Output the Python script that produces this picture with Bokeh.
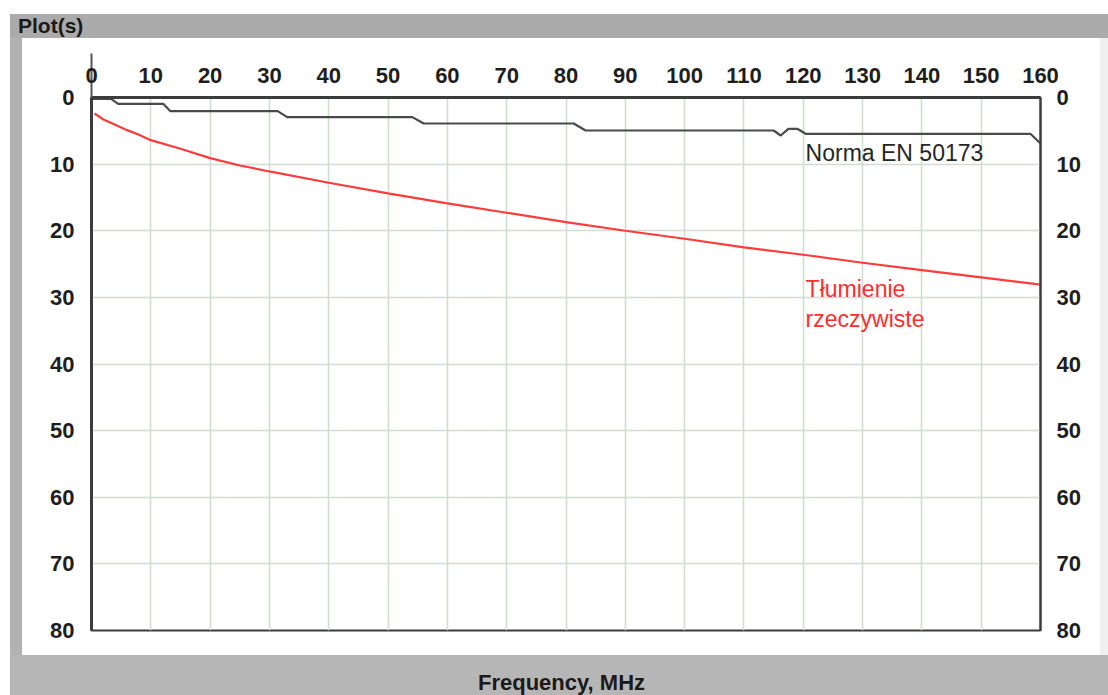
from bokeh.plotting import figure
from bokeh.models import Range1d, LinearAxis, FixedTicker, Div, Grid
from bokeh.layouts import column, row
from bokeh.core.properties import value
from bokeh.embed import file_html
from bokeh.resources import INLINE

# ---- data ----
freq_norm = [0, 3.3, 4.5, 12.1, 13.3, 31.4, 33.0, 54.1, 56.0, 81.3, 83.3,
             115.0, 116.2, 117.5, 119.0, 120.4, 158.3, 160.0]
att_norm = [0.2, 0.2, 0.95, 0.95, 2.05, 2.05, 2.95, 2.95, 3.9, 3.9, 4.95,
            4.95, 5.7, 4.7, 4.7, 5.45, 5.45, 6.9]

freq_real = [0.5, 2, 4, 6, 8, 10, 15, 20, 25, 30, 40, 50, 60, 70, 80, 90,
             100, 110, 120, 130, 140, 150, 160]
att_real = [2.4, 3.3, 4.1, 4.9, 5.6, 6.4, 7.7, 9.1, 10.2, 11.1, 12.8, 14.4,
            15.9, 17.3, 18.7, 20.0, 21.2, 22.5, 23.6, 24.8, 25.9, 27.0, 28.1]

x_ticks = [0, 10, 20, 30, 40, 50, 60, 70, 80, 90, 100, 110, 120, 130, 140, 150, 160]
y_ticks = [0, 10, 20, 30, 40, 50, 60, 70, 80]

norm_label = ["Norma EN 50173"]
real_label = ["Tłumienie", "rzeczywiste"]
panel_title = "Plot(s)"
x_title = "Frequency, MHz"

FONT = "Liberation Sans"
DARK = "#3c3c3c"
GRID = "#d3dcd3"

p = figure(width=1078, height=617,
           x_range=Range1d(0, 160), y_range=Range1d(80, 0),
           output_backend="svg", toolbar_location=None,
           x_axis_location=None, y_axis_location=None,
           min_border_left=69, min_border_right=60,
           min_border_top=59, min_border_bottom=25,
           background_fill_color="white", border_fill_color="white",
           outline_line_color=DARK, outline_line_width=2)

p.center = [r for r in p.center if not isinstance(r, Grid)]
p.add_layout(Grid(dimension=0, ticker=FixedTicker(ticks=x_ticks),
                  grid_line_color=GRID, grid_line_width=1.6))
p.add_layout(Grid(dimension=1, ticker=FixedTicker(ticks=y_ticks),
                  grid_line_color=GRID, grid_line_width=1.6))

lab = dict(major_label_text_font=FONT, major_label_text_font_size="22px",
           major_label_text_font_style="bold", major_label_text_color="#1e1e1e")

top = LinearAxis(ticker=FixedTicker(ticks=x_ticks, minor_ticks=[0]),
                 major_tick_out=0, major_tick_in=0,
                 minor_tick_out=44, minor_tick_in=0,
                 minor_tick_line_color="#555555", minor_tick_line_width=2,
                 axis_line_color=DARK, axis_line_width=3,
                 major_label_standoff=-29, **lab)
p.add_layout(top, "above")

left = LinearAxis(ticker=FixedTicker(ticks=y_ticks),
                  major_tick_out=0, major_tick_in=0,
                  minor_tick_out=0, minor_tick_in=0,
                  axis_line_color=DARK, axis_line_width=3,
                  major_label_standoff=17, **lab)
p.add_layout(left, "left")

right = LinearAxis(ticker=FixedTicker(ticks=y_ticks),
                   major_tick_out=0, major_tick_in=0,
                   minor_tick_out=0, minor_tick_in=0,
                   axis_line_color=DARK, axis_line_width=2,
                   major_label_standoff=16, **lab)
p.add_layout(right, "right")

p.line(freq_norm, att_norm, line_color="#4a4a4a", line_width=2.2)
p.line(freq_real, att_real, line_color="#ff3c3c", line_width=2.2)

p.text(x=[120.4], y=[8.3], text=norm_label, text_font=value(FONT),
       text_font_size="23px", text_color="#262626",
       text_baseline="middle", text_align="left")
p.text(x=[120.4, 120.4], y=[28.7, 33.2], text=real_label, text_font=value(FONT),
       text_font_size="23px", text_color="#ff2e2e",
       text_baseline="middle", text_align="left")

top_div = Div(text=f'<div style="font-family:\'{FONT}\';font-weight:bold;font-size:21px;'
                   f'color:#1a1a1a;padding-left:8px;line-height:24px;white-space:nowrap;">{panel_title}</div>',
              width=1098, height=24, margin=0,
              styles={"background-color": "#ababab"})
left_div = Div(text="", width=12, height=617, margin=0,
               styles={"background-color": "#b2b2b2"})
right_div = Div(text="", width=8, height=617, margin=0,
                styles={"background-color": "#f0f0f0"})
bottom_div = Div(text=f'<div style="font-family:\'{FONT}\';font-weight:bold;font-size:22px;'
                      f'color:#1a1a1a;padding-left:468px;padding-top:15px;line-height:26px;'
                      f'white-space:nowrap;">{x_title}</div>',
                 width=1098, height=40, margin=0,
                 styles={"background-color": "#b6b6b6", "overflow": "visible"})

layout = column(top_div, row(left_div, p, right_div, margin=0), bottom_div,
                margin=(14, 0, 0, 10))

open("out.html", "w").write(file_html(layout, INLINE))
